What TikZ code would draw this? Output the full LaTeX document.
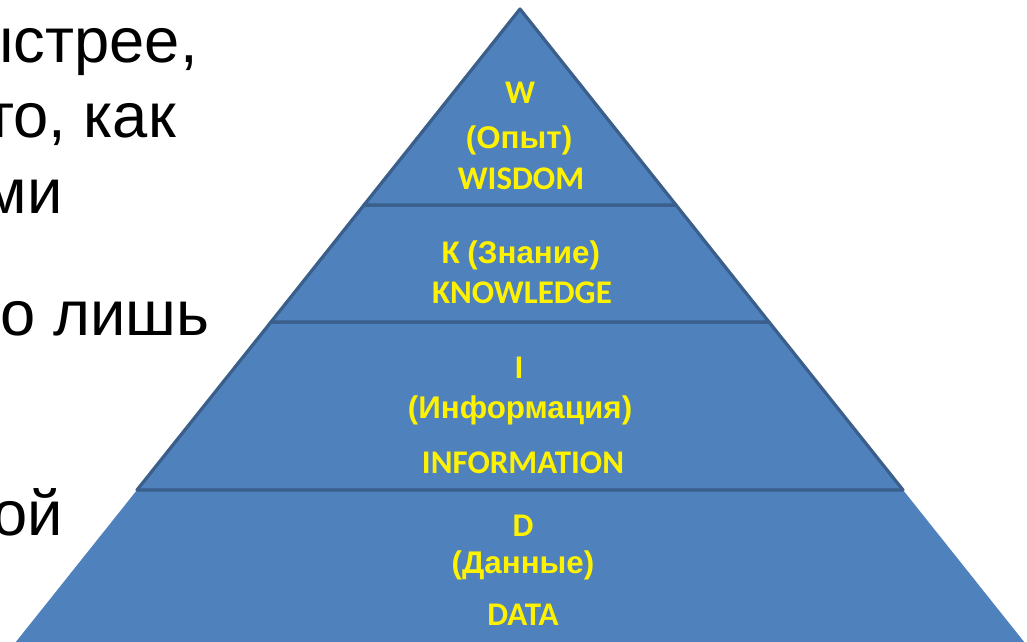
\documentclass[tikz,border=0pt]{standalone}
\usepackage{fontspec}
\setmainfont{Liberation Sans}
\newfontfamily\calibri{Carlito}

\definecolor{pyrfill}{HTML}{4F81BD}
\definecolor{pyrline}{HTML}{3A5F8B}

\tikzset{
  layer/.style={fill=pyrfill, draw=pyrline, line width=2.3pt, line join=round},
  lat/.style={text=yellow, inner sep=0pt, anchor=base,
    font=\calibri\bfseries\fontsize{23.5}{28}\selectfont},
  cyr/.style={text=yellow, inner sep=0pt, anchor=base,
    font=\rmfamily\bfseries\fontsize{22.3}{26}\selectfont},
  body/.style={inner sep=0pt, anchor=base east,
    font=\fontsize{45}{54}\selectfont}
}

\begin{document}
\begin{tikzpicture}[x=0.025cm, y=-0.025cm]
        \useasboundingbox (0,0) rectangle (1027,641);
        \clip (0,0) rectangle (1027,641);

        % text on the left, cut by the page edge
        \node[body] (line1) at (198,62) {ыстрее,};
        \node[body] (line2) at (176,137) {то, как};
        \node[body] (line3) at (63,213) {ми};
        \node[body] (line4) at (210,335) {то лишь};
        \node[body] (line5) at (63,535) {ой};

        % pyramid
        \fill[pyrfill] (137,490) -- (903,490) -- (1080,712) -- (-40,712) -- cycle;
        \draw[layer] (137,490) -- (271,322) -- (769,322) -- (903,490) -- cycle;
        \draw[layer] (271,322) -- (364,205) -- (676,205) -- (769,322) -- cycle;
        \draw[layer] (364,205) -- (520,9) -- (676,205) -- cycle;

        \node[lat] (wis) at (520,103) {W};
        \node[cyr] (wisru) at (519,148) {(Опыт)};
        \node[lat] (wisen) at (521,189) {WISDOM};

        \node[lat] (know) at (521,263) {K {\rmfamily\bfseries\fontsize{22.3}{26}\selectfont(Знание)}};
        \node[lat] (knowen) at (522,303) {KNOWLEDGE};

        \node[lat] (inf) at (519,378) {I};
        \node[cyr] (infru) at (520,418) {(Информация)};
        \node[lat] (infen) at (523,473) {INFORMATION};

        \node[lat] (dat) at (523,536) {D};
        \node[cyr] (datru) at (523,573) {(Данные)};
        \node[lat] (daten) at (523,625) {DATA};
      \end{tikzpicture}
\end{document}
